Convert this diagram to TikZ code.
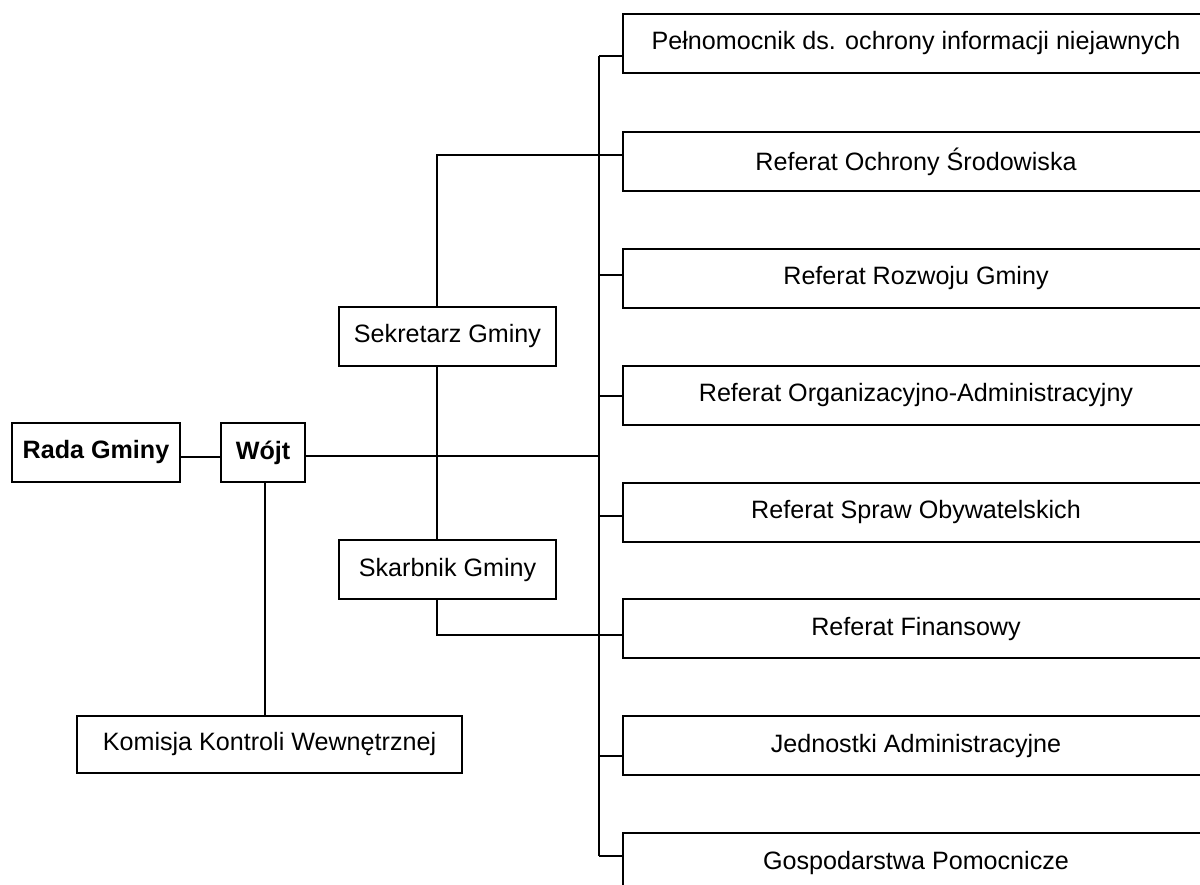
\documentclass[tikz,border=0pt]{standalone}
\usepackage{fontspec}
\setmainfont{Liberation Sans}
\begin{document}
\begin{tikzpicture}[x=0.02cm,y=-0.02cm,
  line width=0.85pt,
  box/.style={draw,line width=0.85pt,inner sep=0pt,font=\fontsize{14.3}{16}\selectfont},
  rbox/.style={box,minimum width=11.72cm,minimum height=1.18cm},
  wire/.style={draw,line width=0.85pt}]
\useasboundingbox (0,0) rectangle (1200,885);
\clip (0,0) rectangle (1200,885);
% left side
\node[box,minimum width=3.36cm,minimum height=1.18cm,font=\fontsize{14.3}{16}\selectfont\bfseries] (rada) at (96,452.5) {Rada Gminy};
\node[box,minimum width=1.68cm,minimum height=1.18cm,font=\fontsize{14.3}{16}\selectfont\bfseries] (wojt) at (263,452.5) {Wójt};
\node[box,minimum width=7.7cm,minimum height=1.14cm] (kom) at (269.5,744.5) {Komisja Kontroli Wewnętrznej};
\node[box,minimum width=4.34cm,minimum height=1.18cm] (sek) at (447.5,336.5) {Sekretarz Gminy};
\node[box,minimum width=4.34cm,minimum height=1.18cm] (skar) at (447.5,569.5) {Skarbnik Gminy};
% right column
\node[rbox] (r1) at (916,43.5) {Pełnomocnik ds. ochrony informacji niejawnych};
\node[rbox] (r2) at (916,161.5) {Referat Ochrony Środowiska};
\node[rbox] (r3) at (916,278.5) {Referat Rozwoju Gminy};
\node[rbox] (r4) at (916,395.5) {Referat Organizacyjno-Administracyjny};
\node[rbox] (r5) at (916,512.5) {Referat Spraw Obywatelskich};
\node[rbox] (r6) at (916,628.5) {Referat Finansowy};
\node[rbox] (r7) at (916,745.5) {Jednostki Administracyjne};
\node[rbox] (r8) at (916,862.5) {Gospodarstwa Pomocnicze};
% bus
\coordinate (busT) at (599,56);
\coordinate (busB) at (599,856);
\coordinate (sekT) at (437,155);
\coordinate (skaB) at (437,635);
\draw[wire] (busT) -- (busB);
\draw[wire] (busT) -- (r1.west |- busT);
\draw[wire] (busT |- 0,275) -- (r3.west |- 0,275);
\draw[wire] (busT |- 0,396) -- (r4.west |- 0,396);
\draw[wire] (busT |- 0,516) -- (r5.west |- 0,516);
\draw[wire] (busT |- 0,756) -- (r7.west |- 0,756);
\draw[wire] (busB) -- (r8.west |- busB);
% left connections
\draw[wire] (rada.east |- 0,457) -- (wojt.west |- 0,457);
\draw[wire] (wojt.east |- 0,456) -- (busT |- 0,456);
\draw[wire] (wojt.south -| 265,0) -- (kom.north -| 265,0);
\draw[wire] (sek.north -| sekT) -- (sekT) -- (r2.west |- sekT);
\draw[wire] (sek.south -| sekT) -- (skar.north -| sekT);
\draw[wire] (skar.south -| skaB) -- (skaB) -- (r6.west |- skaB);
\end{tikzpicture}
\end{document}
